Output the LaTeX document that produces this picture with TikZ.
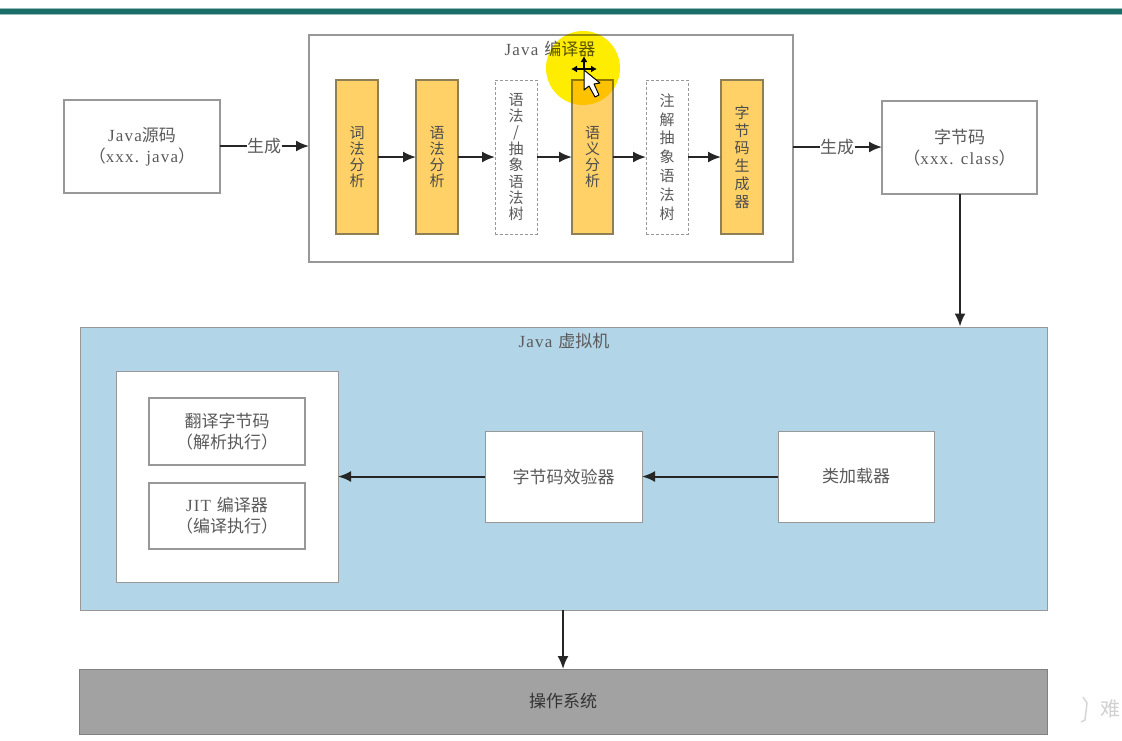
\documentclass[tikz,border=0pt]{standalone}
\usepackage{fontspec}
\setmainfont{Liberation Serif}
\newfontfamily\cjk{Noto Sans CJK SC}
\newfontfamily\airy[LetterSpace=7]{Liberation Serif}
\newcommand{\zh}[1]{{\cjk #1}}
\newcommand{\lat}[1]{{\airy #1}}
\usetikzlibrary{arrows.meta}
\definecolor{framegray}{HTML}{989898}
\definecolor{labelgray}{HTML}{5A5A5A}
\definecolor{stagefill}{HTML}{FFD166}
\definecolor{stageedge}{HTML}{8F7F55}
\definecolor{vmblue}{HTML}{B2D6E8}
\definecolor{osgray}{HTML}{A2A2A2}
\definecolor{teal}{HTML}{1B6F69}
\tikzset{
  x=1pt, y=-1pt,
  base/.style={inner sep=0pt, outer sep=0pt, align=center, text=labelgray,
    font=\fontsize{17}{21}\selectfont},
  whitebox/.style={base, draw=framegray, line width=1.3pt, fill=white},
  upright/.style={font=\cjk\fontsize{15}{#1}\selectfont},
  stage/.style={base, draw=stageedge, line width=1.2pt, fill=stagefill,
    minimum width=42pt, minimum height=154pt, text=black!70},
  treebox/.style={base, draw=framegray, line width=1pt, dash pattern=on 3pt off 2pt,
    fill=white, minimum width=42pt, minimum height=154pt},
  link/.style={draw=black!85, line width=2pt, -{Latex[length=13pt,width=11pt]}},
  plainlink/.style={draw=black!85, line width=2pt},
  caption/.style={base},
}
\begin{document}
\begin{tikzpicture}
\useasboundingbox (0,0) rectangle (1122,740);
\fill[white] (0,0) rectangle (1122,740);

% header rule
\fill[teal!45] (0,7.5) rectangle (1122,15);
\fill[teal] (0,9) rectangle (1122,14);

% compiler frame and its stages
\node[whitebox, minimum width=484pt, minimum height=227pt] (compiler) at (551,148.5) {};
\node[caption] (compilercap) at (550,49) {\lat{Java}\hspace{0.35em}\zh{编译器}};
\node[stage, upright=16] (lex) at (357,157) {词\\法\\分\\析};
\node[stage, upright=16] (syn) at (437,157) {语\\法\\分\\析};
\node[treebox, upright=16.4] (tree) at (516,157) {语\\法\\/\\抽\\象\\语\\法\\树};
\node[stage, upright=16, minimum width=41pt] (sem) at (592.5,157) {语\\义\\分\\析};
\node[treebox, upright=18.8] (atree) at (667,157) {注\\解\\抽\\象\\语\\法\\树};
\node[stage, upright=17.7] (gen) at (742,157) {字\\节\\码\\生\\成\\器};
\draw[link] (lex) -- (syn);
\draw[link] (syn) -- (tree);
\draw[link] (tree) -- (sem);
\draw[link] (sem) -- (atree);
\draw[link] (atree) -- (gen);

% source and bytecode
\node[whitebox, minimum width=156pt, minimum height=93pt] (src) at (142,146.5)
  {\lat{Java}\zh{源码}\\\zh{（}\lat{xxx. java}\zh{）}};
\node[whitebox, minimum width=155pt, minimum height=93pt] (bc) at (959.5,147.5)
  {\zh{字节码}\\\zh{（}\lat{xxx. class}\zh{）}};
\node[base, fill=white, inner xsep=0.5pt, inner ysep=1pt] (made1) at (264,146) {\zh{生成}};
\node[base, fill=white, inner xsep=0.5pt, inner ysep=1pt] (made2) at (837,147) {\zh{生成}};
\draw[plainlink] (src.east |- made1) -- (made1);
\draw[link] (made1) -- (made1 -| compiler.west);
\draw[plainlink] (compiler.east |- made2) -- (made2);
\draw[link] (made2) -- (made2 -| bc.west);

% virtual machine
\node[base, draw=framegray, line width=1pt, fill=vmblue, minimum width=967pt, minimum height=283pt] (vm) at (563.5,468.5) {};
\node[caption] (vmcap) at (564,341) {\lat{Java}\hspace{0.35em}\zh{虚拟机}};
\node[whitebox, line width=1pt, minimum width=222pt, minimum height=211pt] (exec) at (227,476.5) {};
\node[whitebox, minimum width=156pt, minimum height=67pt] (interp) at (227,431.5)
  {\zh{翻译字节码}\\\zh{（解析执行）}};
\node[whitebox, minimum width=156pt, minimum height=66pt] (jit) at (227,516)
  {\lat{JIT}\hspace{0.35em}\zh{编译器}\\\zh{（编译执行）}};
\node[whitebox, line width=1pt, minimum width=157pt, minimum height=91pt] (verify) at (563.5,476.5) {\zh{字节码效验器}};
\node[whitebox, line width=1pt, minimum width=156pt, minimum height=91pt] (loader) at (856,476.5) {\zh{类加载器}};
\draw[link] (loader) -- (verify);
\draw[link] (verify) -- (exec);
\coordinate (vmin) at (960,326.5);
\draw[link] (bc.south -| vmin) -- (vmin);

% operating system
\node[base, draw=black!50, line width=1pt, fill=osgray, text=black!80, minimum width=968pt, minimum height=65pt] (os) at (563,701.5) {\zh{操作系统}};
\draw[link] (vm.south -| os.north) -- (os.north);

% highlighted pointer
\begin{scope}[blend mode=multiply]
  \fill[yellow!95!orange] (583,68) circle[radius=37];
\end{scope}
\coordinate (grip) at (584,69);
\draw[-{Latex[length=6pt,width=7pt]}, line width=1.2pt] (grip) -- +(0,-13);
\draw[-{Latex[length=6pt,width=7pt]}, line width=1.2pt] (grip) -- +(-13,0);
\draw[-{Latex[length=6pt,width=7pt]}, line width=1.2pt] (grip) -- +(13,0);
\draw[fill=white, draw=black, line width=1pt, line join=round]
  (584,70) -- (584,90) -- (589,86) -- (595,97) -- (599,95) -- (594,84) -- (600,83) -- cycle;

% faint corner mark
\node[base, text=black!18, font=\cjk\fontsize{20}{20}\selectfont] (mark) at (1110,709) {难};
\draw[black!16, line width=1.5pt] (1083,697) -- (1087,703) -- (1085,720) -- (1081,722);
\end{tikzpicture}
\end{document}
